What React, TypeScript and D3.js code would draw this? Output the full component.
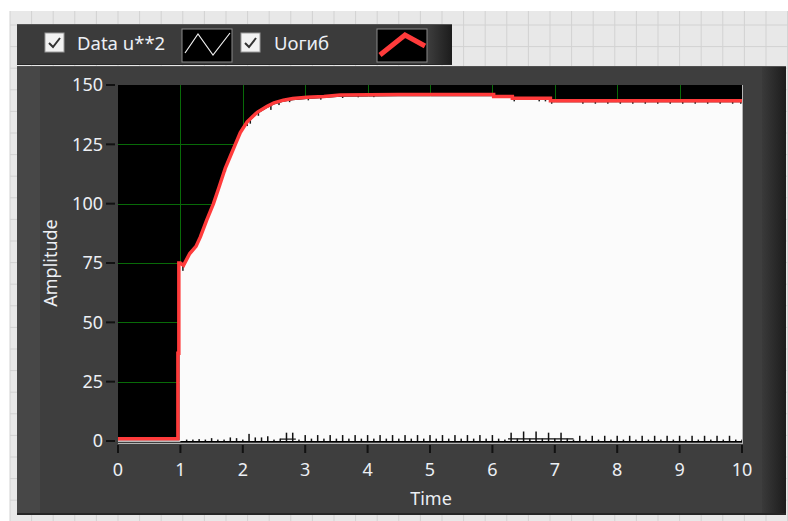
import React from "react";
import * as d3 from "d3";

// envelope "Uогиб" (red)
const envT = [0, 0.96, 0.96, 0.975, 0.975, 1.0, 1.05, 1.15, 1.25, 1.32, 1.42, 1.53, 1.62, 1.72, 1.8, 1.88, 1.96, 2.07, 2.15, 2.23, 2.39, 2.5, 2.65, 2.8, 3.03, 3.3, 3.56, 4.5, 6.02, 6.02, 6.32, 6.32, 6.93, 6.93, 10];
const envV = [1, 1, 37, 37, 75, 75, 74, 79, 82, 86, 93, 100, 107, 115, 120, 125, 130, 134.5, 136.5, 138.5, 141, 142.5, 143.6, 144.3, 144.8, 145.2, 145.8, 146, 146, 145.2, 145.2, 144.4, 144.4, 143.4, 143.4];

// "Data u**2" peaks (white, dense oscillation -> drawn as filled)
const dataT = [0.985, 1.0, 1.05, 1.15, 1.25, 1.32, 1.42, 1.53, 1.62, 1.72, 1.8, 1.88, 1.96, 2.07, 2.15, 2.23, 2.39, 2.5, 2.65, 2.8, 3.03, 3.3, 3.56, 4.5, 6.02, 6.03, 6.32, 6.33, 6.93, 6.94, 10];
const dataPeak = [74.5, 74.5, 73, 78.3, 81.3, 85.3, 92.3, 99.3, 106.3, 114.3, 119.3, 124.3, 129.3, 133.8, 135.8, 137.8, 140.3, 141.8, 142.9, 143.6, 144.1, 144.5, 145.1, 145.3, 145.3, 144.5, 144.5, 143.7, 143.7, 142.7, 142.7];

// short dips of the data just under the envelope (time, depth)
const notchT = [1.04, 1.72, 2.07, 2.12, 2.25, 2.45, 2.58, 2.75, 3.05, 3.25, 3.6, 3.85, 4.1, 6.35, 6.75, 6.85, 6.95, 7.45, 7.65, 7.85, 8.05, 8.25, 8.45, 8.65, 8.85, 9.05, 9.25, 9.45, 9.65, 9.85, 9.98];
const notchD = [4, 2.5, 3, 3.5, 3, 4, 2.5, 2, 2, 2, 2, 1.5, 1.5, 2, 2, 2, 2, 2, 2, 2, 2, 2, 2, 2, 2, 2, 2, 2, 2, 2, 2];

// low dips of the data near zero, one per 0.1 s starting at t = 1.0
const troughH = [
  0, 0.6, 0.6, 0.8, 0.6, 1.2, 0.6, 0.6, 1.5, 1.2,
  0.6, 3, 1.5, 1.5, 2, 0.6, 1, 3.5, 3.5, 0.6,
  2.5, 1, 2.5, 1, 2.5, 1, 2.5, 1, 2.5, 1,
  2.5, 1, 2.5, 1, 2.5, 1, 2.5, 1, 2.5, 1,
  2.5, 1, 2.5, 1, 2.5, 1, 2.5, 1, 2.5, 1,
  2.5, 1, 0.6, 3.5, 1, 4, 1, 4, 1, 3.5,
  1, 3.5, 1, 0.6, 2.2, 0.6, 2.2, 0.6, 2.2, 0.6,
  2.2, 0.6, 2.2, 0.6, 2.2, 0.6, 2.2, 0.6, 2.2, 0.6,
  2.2, 0.6, 2.2, 0.6, 2.2, 0.6, 2.2, 0.6, 2.2, 0.6, 0.6,
];
const troughLines: [number, number, number][] = [
  [2.6, 2.85, 0.8],
  [6.25, 7.3, 0.9],
];

const xTicks = [0, 1, 2, 3, 4, 5, 6, 7, 8, 9, 10];
const yTicks = [0, 25, 50, 75, 100, 125, 150];
const legendNames = ["Data u**2", "Uогиб"];

const W = 788;
const H = 521;
const plot = { left: 118, right: 742, top: 85, bottom: 441 };
const font = "'Noto Sans', 'Open Sans', sans-serif";
const textCol = "#eceff4";

export default function App() {
  const x = d3.scaleLinear().domain([0, 10]).range([plot.left, plot.right]);
  const y = d3.scaleLinear().domain([0, 150]).range([plot.bottom, plot.top]);

  const envLine = d3
    .line<number>()
    .x((_, i) => x(envT[i]))
    .y((v) => y(v))(envV) as string;

  const dataArea = d3
    .area<number>()
    .x((_, i) => x(dataT[i]))
    .y0(y(0))
    .y1((v) => y(v))(dataPeak) as string;

  // value of the data peak at time t (for placing the notches)
  const peakAt = (t: number) => {
    const i = Math.max(1, Math.min(dataT.length - 1, d3.bisectLeft(dataT, t)));
    const t0 = dataT[i - 1];
    const t1 = dataT[i];
    const k = t1 === t0 ? 0 : (t - t0) / (t1 - t0);
    return dataPeak[i - 1] + (dataPeak[i] - dataPeak[i - 1]) * k;
  };

  const gridX = d3.range(10, W, 21.6);
  const gridY = d3.range(3.4, H, 21.6);

  return (
    <div style={{ position: "absolute", left: 0, top: 0 }}>
      <svg width={W} height={H} style={{ display: "block" }}>
        <defs>
          <linearGradient id="rightShade" x1="0" x2="1" y1="0" y2="0">
            <stop offset="0" stopColor="#3a3a3a" />
            <stop offset="1" stopColor="#1c1c1c" />
          </linearGradient>
          <clipPath id="plotClip">
            <rect x={plot.left} y={plot.top} width={plot.right - plot.left} height={plot.bottom - plot.top + 1} />
          </clipPath>
        </defs>

        {/* page background with the editor grid */}
        <rect width={W} height={H} fill="#ffffff" />
        <rect x={10} y={11} width={W - 10} height={H - 11} fill="#e8e8e8" />
        <g stroke="#d2d2d2" strokeWidth={1}>
          {gridX.map((gx) => (
            <line key={"gx" + gx} x1={gx} x2={gx} y1={11} y2={H} />
          ))}
          {gridY
            .filter((gy) => gy > 11)
            .map((gy) => (
              <line key={"gy" + gy} x1={10} x2={W} y1={gy} y2={gy} />
            ))}
        </g>

        {/* legend panel */}
        <rect x={17} y={24} width={435} height={41} fill="#3b3b3b" />
        <rect x={430} y={24} width={22} height={41} fill="url(#rightShade)" />
        <line x1={17} x2={452} y1={24.5} y2={24.5} stroke="#555" />
        <line x1={17} x2={452} y1={64.5} y2={64.5} stroke="#262626" />
        {[45, 241].map((cx, i) => (
          <g key={"cb" + i}>
            <rect x={cx} y={33} width={19} height={19} fill="#f2f2f2" stroke="#9a9a9a" />
            <path
              d={`M${cx + 4},${43} L${cx + 8},${47} L${cx + 15},${38}`}
              fill="none"
              stroke="#333"
              strokeWidth={2}
            />
          </g>
        ))}
        <text x={77} y={50} fill={textCol} fontFamily={font} fontSize={18.5}>
          {legendNames[0]}
        </text>
        <text x={274} y={50} fill={textCol} fontFamily={font} fontSize={18.5}>
          {legendNames[1]}
        </text>
        <rect x={182} y={29} width={50} height={33} fill="#000" stroke="#8a8a8a" />
        <path d="M185,53 L198,34 L213,55 L230,33" fill="none" stroke="#f0f0f0" strokeWidth={1.2} />
        <rect x={377} y={29} width={50} height={33} fill="#000" stroke="#8a8a8a" />
        <path d="M380,55 L405,35 L425,46" fill="none" stroke="#ff3b3b" strokeWidth={5} />

        {/* main panel */}
        <rect x={17} y={66} width={769} height={449} fill="#3e3e3e" />
        <rect x={17} y={66} width={23} height={449} fill="#474747" />
        <rect x={762} y={66} width={24} height={449} fill="url(#rightShade)" />
        <line x1={17} x2={786} y1={66.5} y2={66.5} stroke="#505050" />
        <line x1={17} x2={786} y1={514} y2={514} stroke="#262626" strokeWidth={2} />

        {/* plot area */}
        <rect x={plot.left} y={plot.top} width={plot.right - plot.left} height={plot.bottom - plot.top + 1} fill="#000" />
        <line x1={plot.right + 0.5} x2={plot.right + 0.5} y1={plot.top} y2={plot.bottom + 2} stroke="#b5b5b5" />
        <line x1={plot.left} x2={plot.right + 1} y1={plot.bottom + 2.5} y2={plot.bottom + 2.5} stroke="#b5b5b5" />

        <g stroke="#086a08" strokeWidth={1}>
          {xTicks.slice(1, -1).map((t) => (
            <line key={"vx" + t} x1={Math.round(x(t)) + 0.5} x2={Math.round(x(t)) + 0.5} y1={plot.top} y2={plot.bottom} />
          ))}
          {yTicks.slice(1, -1).map((t) => (
            <line key={"hy" + t} x1={plot.left} x2={plot.right} y1={Math.round(y(t)) + 0.5} y2={Math.round(y(t)) + 0.5} />
          ))}
        </g>

        <g clipPath="url(#plotClip)">
          {/* Data u**2 */}
          <line x1={x(0)} x2={x(1)} y1={y(0)} y2={y(0)} stroke="#f4f4f4" strokeWidth={1.5} />
          <path d={dataArea} fill="#fbfbfb" />
          {notchT.map((t, i) => {
            const top = y(peakAt(t)) - 1;
            return (
              <rect key={"nt" + i} x={x(t) - 0.75} y={top} width={1.5} height={notchD[i] * 1.2} fill="#1a1a1a" />
            );
          })}
          {troughH.map((h, i) =>
            h > 0 ? (
              <rect
                key={"tr" + i}
                x={x(1 + i * 0.1) - 0.75}
                y={y(h)}
                width={1.5}
                height={y(0) - y(h)}
                fill="#111"
              />
            ) : null
          )}
          {troughLines.map(([a, b, h], i) => (
            <line key={"tl" + i} x1={x(a)} x2={x(b)} y1={y(h)} y2={y(h)} stroke="#111" strokeWidth={1.2} />
          ))}
          {/* Uогиб */}
          <path d={envLine} fill="none" stroke="#ff3b3b" strokeWidth={3.5} strokeLinejoin="miter" />
        </g>

        {/* y axis */}
        {yTicks.map((t) => (
          <g key={"yt" + t}>
            <line x1={106} x2={115} y1={y(t)} y2={y(t)} stroke="#111" strokeWidth={2} />
            <text
              x={103}
              y={y(t)}
              dy="0.35em"
              textAnchor="end"
              fill={textCol}
              fontFamily={font}
              fontSize={18}
            >
              {t}
            </text>
          </g>
        ))}
        <text
          transform={`translate(57,263) rotate(-90)`}
          textAnchor="middle"
          fill={textCol}
          fontFamily={font}
          fontSize={18}
        >
          Amplitude
        </text>

        {/* x axis */}
        {xTicks.map((t) => (
          <g key={"xt" + t}>
            <line x1={x(t)} x2={x(t)} y1={445} y2={453} stroke="#111" strokeWidth={2} />
            <text
              x={x(t)}
              y={476}
              textAnchor="middle"
              fill={textCol}
              fontFamily={font}
              fontSize={18}
            >
              {t}
            </text>
          </g>
        ))}
        <text x={431} y={505} textAnchor="middle" fill={textCol} fontFamily={font} fontSize={18}>
          Time
        </text>
      </svg>
    </div>
  );
}
